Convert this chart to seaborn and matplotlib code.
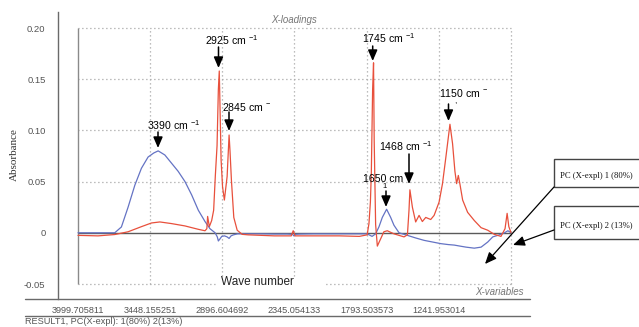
import matplotlib
matplotlib.use("Agg")
import matplotlib.pyplot as plt
import seaborn as sns
import pandas as pd
from matplotlib.lines import Line2D
from matplotlib.patches import Rectangle, FancyArrowPatch
from matplotlib.transforms import Affine2D
from matplotlib.ticker import MultipleLocator

# ---------------- data ----------------
wn_pc1 = [4000, 3900, 3800, 3719, 3668, 3617, 3565, 3515, 3464, 3420,
          3387, 3336, 3285, 3234, 3182, 3131, 3080, 3029, 2991, 2952,
          2935, 2927, 2915, 2901, 2880, 2860, 2845, 2830, 2812, 2780,
          2700, 2600, 2500, 2400, 2360, 2350, 2340, 2300, 2200, 2100,
          2000, 1900, 1800, 1790, 1752, 1725, 1699, 1674, 1641, 1610,
          1585, 1546, 1482, 1420, 1354, 1290, 1226, 1170, 1124, 1080,
          1034, 971, 919, 868, 830, 791, 740, 714, 690]
ab_pc1 = [0, 0, 0, 0, 0.0057, 0.025, 0.0466, 0.063, 0.074, 0.078,
          0.080, 0.076, 0.068, 0.060, 0.050, 0.037, 0.022, 0.011, 0.004, 0,
          -0.004, -0.008, -0.006, -0.0035, -0.003, -0.004, -0.0055, -0.003, -0.002, -0.001,
          -0.001, -0.001, -0.0012, -0.0012, -0.0015, -0.003, -0.0015, -0.0012, -0.001, -0.001,
          -0.001, -0.001, -0.001, -0.001, -0.0035, -0.001, 0.006, 0.015, 0.023, 0.015,
          0.0074, 0.0, -0.0025, -0.005, -0.0074, -0.009, -0.0106, -0.0115, -0.012, -0.013,
          -0.014, -0.015, -0.014, -0.009, -0.004, -0.0025, 0, 0.002, 0]

wn_pc2 = [4000, 3847, 3719, 3617, 3515, 3438, 3374, 3285, 3182, 3080,
          3029, 3015, 3009, 2996, 2978, 2963, 2950, 2937, 2927, 2920,
          2906, 2895, 2881, 2860, 2845, 2838, 2827, 2809, 2783, 2745,
          2700, 2500, 2370, 2355, 2340, 2200, 2000, 1850, 1790, 1776,
          1765, 1758, 1748, 1741, 1736, 1725, 1712, 1687, 1662, 1636,
          1585, 1508, 1482, 1470, 1463, 1444, 1419, 1393, 1368, 1342,
          1304, 1278, 1240, 1214, 1188, 1157, 1137, 1119, 1106, 1093,
          1080, 1060, 1022, 971, 919, 868, 818, 767, 736, 720,
          707, 690]
ab_pc2 = [-0.0025, -0.003, -0.0017, 0.001, 0.006, 0.0096, 0.0106, 0.009, 0.0067, 0.0034,
          0.002, 0.004, 0.016, 0.006, 0.012, 0.022, 0.056, 0.085, 0.140, 0.158,
          0.071, 0.045, 0.032, 0.055, 0.0955, 0.080, 0.051, 0.015, 0.0025, -0.0015,
          -0.002, -0.003, -0.003, 0.002, -0.003, -0.003, -0.003, -0.0035, -0.002, 0.009,
          0.03, 0.058, 0.14, 0.166, 0.09, 0.008, -0.013, -0.006, 0.001, 0.002,
          -0.001, -0.004, -0.002, 0.022, 0.042, 0.025, 0.0106, 0.017, 0.011, 0.015,
          0.013, 0.017, 0.030, 0.048, 0.074, 0.106, 0.087, 0.060, 0.048, 0.056,
          0.047, 0.032, 0.020, 0.012, 0.005, 0.0025, -0.0015, -0.0035, 0.004, 0.019,
          0.006, 0]

xtick_vals = [3999.705811, 3448.155251, 2896.604692, 2345.054133,
              1793.503573, 1241.953014, 690.402454]
xtick_labels = ["3999.705811", "3448.155251", "2896.604692", "2345.054133",
                "1793.503573", "1241.953014", ""]
ytick_vals = [0.20, 0.15, 0.10, 0.05, 0.0, -0.05]
ytick_labels = ["0.20", "0.15", "0.10", "0.05", "0", "-0.05"]

peak_labels = ["3390 cm", "2925 cm", "2845 cm", "1745 cm", "1468 cm", "1650 cm", "1150 cm"]
peak_sups = [r"$^{-1}$", r"$^{-1}$", r"$^{-}$", r"$^{-1}$", r"$^{-1}$", "", r"$^{-}$"]
series_names = ["PC (X-expl) 1 (80%)", "PC (X-expl) 2 (13%)"]
footer = "RESULT1, PC(X-expl): 1(80%) 2(13%)"

# ---------------- style ----------------
sns.set_style("white")
plt.rcParams["font.family"] = ["Liberation Sans", "DejaVu Sans"]
plt.rcParams["mathtext.fontset"] = "custom"
plt.rcParams["mathtext.rm"] = "Liberation Sans"
plt.rcParams["mathtext.it"] = "Liberation Sans:italic"
NARROW = ["Liberation Sans Narrow", "Liberation Sans", "DejaVu Sans"]
SERIF = ["Liberation Serif", "DejaVu Serif"]

RED = "#e8503c"
BLUE = "#6473c4"
GRID = "#a8a8a8"
AX = "#6a6a6a"
TXT = "#555555"

W, H = 639, 327
fig = plt.figure(figsize=(W / 100, H / 100), dpi=100)
fig.patch.set_facecolor("white")
PX = Affine2D().scale(1, -1).translate(0, H)  # pixel coords (top-left origin)

ax = fig.add_axes([58 / W, (H - 299) / H, 472 / W, 287 / H])
ax.set_facecolor("white")
x_left, x_right = xtick_vals[0], xtick_vals[-1]
slope = (x_left - x_right) / (511 - 78)
ax.set_xlim(x_left + 20 * slope, x_right - 19 * slope)
ax.set_ylim(-0.05 - 15 / 1024, 0.20 + 16 / 1024)

for s in ["top", "right", "bottom"]:
    ax.spines[s].set_visible(False)
ax.spines["left"].set_color(AX)
ax.spines["left"].set_linewidth(1.0)

# inner grid
for yv in ytick_vals:
    if yv != 0:
        ax.hlines(yv, x_right, x_left, colors=GRID, linestyles=(0, (1, 2.2)), lw=0.9, zorder=1)
for xv in xtick_vals[1:]:
    ax.vlines(xv, -0.05, 0.20, colors=GRID, linestyles=(0, (1, 2.2)), lw=0.9, zorder=1)
ax.vlines(x_left, -0.05, 0.20, colors="#8a8a8a", lw=1.0, zorder=1)
ax.hlines(0, x_right, x_left, colors="#5a5a5a", lw=1.0, zorder=2)

# curves
sns.lineplot(x=wn_pc1, y=ab_pc1, ax=ax, color=BLUE, lw=0.9, sort=False, estimator=None, zorder=3)
sns.lineplot(x=wn_pc2, y=ab_pc2, ax=ax, color=RED, lw=0.9, sort=False, estimator=None, zorder=4)

ax.set_xlabel("")
ax.set_ylabel("")
ax.set_xticks(xtick_vals)
ax.set_xticklabels(xtick_labels, family=NARROW)
ax.set_yticks(ytick_vals)
ax.set_yticklabels(ytick_labels, family=NARROW)
ax.yaxis.set_minor_locator(MultipleLocator(0.01))
ax.tick_params(axis="x", direction="in", length=4, width=0.8, color=AX,
               labelsize=6.6, labelcolor=TXT, pad=5)
ax.tick_params(axis="y", which="major", direction="out", length=6, width=0.8,
               color=AX, labelsize=6.8, labelcolor=TXT, pad=3)
ax.tick_params(axis="y", which="minor", direction="out", length=3.5, width=0.8, color=AX)

# frame lines below plot
for yy in (299, 316):
    fig.add_artist(Line2D([25, 530], [yy, yy], transform=PX, color=AX, lw=1.0))

# texts
fig.text(14, 155, "Absorbance", transform=PX, rotation=90, ha="center", va="center",
         family=SERIF, fontsize=8, color="#333333")
fig.text(294, 20, "X-loadings", transform=PX, ha="center", va="center",
         fontsize=7, style="italic", color="#777777")
fig.text(524, 292, "X-variables", transform=PX, ha="right", va="center",
         fontsize=7, style="italic", color="#777777")
fig.text(25, 322, footer, transform=PX, ha="left", va="center",
         family=NARROW, fontsize=6.6, color=TXT)
fig.add_artist(Rectangle((217, 277), 108, 13, transform=PX, facecolor="white",
                         edgecolor="none", zorder=5))
fig.text(257, 282, "Wave number", transform=PX, ha="center", va="center",
         fontsize=8.5, color="#222222", zorder=6)

# peak annotations: (text_left, text_y, arrow_x, arrow_top, arrow_tip)
ann_pos = [(147, 125, 158, 132, 148),
           (205, 40, 218.5, 47, 68),
           (221.5, 107, 229, 112, 131),
           (361.5, 38, 372.7, 46, 61),
           (379, 146, 409, 154, 184),
           (363.3, 179, 386, 191, 207),
           (439.3, 93, 448.5, 104, 121)]
ARROW = dict(arrowstyle="-|>,head_length=0.65,head_width=0.28", color="black",
             lw=1.1, shrinkA=0, shrinkB=0)
for lab, sup, (tx, ty, axp, at, tip) in zip(peak_labels, peak_sups, ann_pos):
    fig.text(tx, ty, lab + " " + sup if sup else lab, transform=PX,
             ha="left", va="center", fontsize=7.6, color="black", zorder=7)
    fig.add_artist(FancyArrowPatch((axp, at), (axp, tip), transform=PX,
                                   mutation_scale=10, zorder=7, **ARROW))
fig.text(385, 187, "1", transform=PX, ha="center", va="center", fontsize=5.5, color="black")
fig.text(455, 102, ",", transform=PX, ha="center", va="center", fontsize=6, color="black")

# series boxes
box_y = [(159, 187), (206, 239)]
for name, (y0, y1) in zip(series_names, box_y):
    fig.add_artist(Rectangle((554, y0), 100, y1 - y0, transform=PX, facecolor="white",
                             edgecolor="#444444", lw=1.0, zorder=6))
    fig.text(560, (y0 + y1) / 2 + 3, name, transform=PX, ha="left", va="center",
             family=SERIF, fontsize=6.2, color="#111111", zorder=7)
LEAD = dict(arrowstyle="-|>,head_length=0.7,head_width=0.3", color="black",
            lw=0.9, shrinkA=0, shrinkB=0)
fig.add_artist(FancyArrowPatch((554, 187), (485, 264), transform=PX,
                               mutation_scale=10, zorder=7, **LEAD))
fig.add_artist(FancyArrowPatch((554, 230), (513, 245), transform=PX,
                               mutation_scale=10, zorder=7, **LEAD))

fig.savefig("out.png", dpi=100, facecolor="white")
